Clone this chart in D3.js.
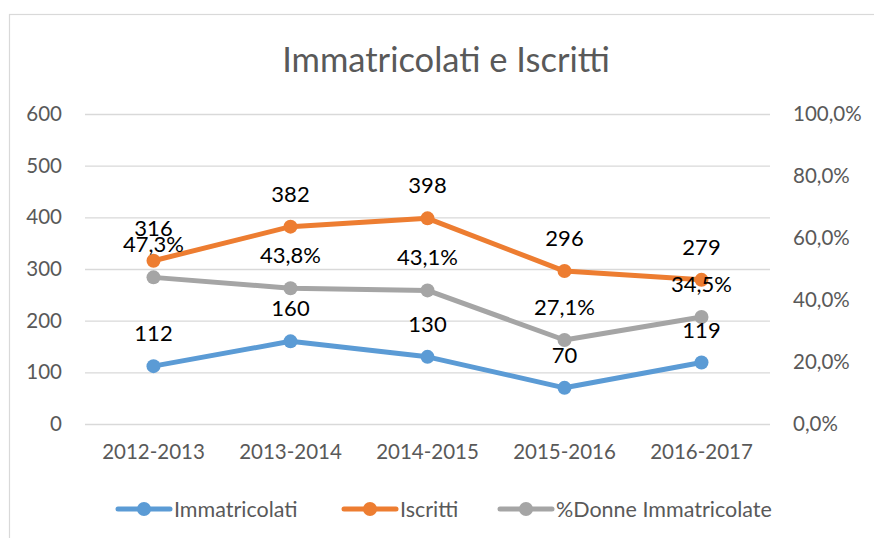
<!DOCTYPE html>
<html>
<head>
<meta charset="utf-8">
<script src="https://cdn.jsdelivr.net/npm/d3@7"></script>
<style>
  body { margin: 0; background: #fff; }
  text { font-family: Lato, "Open Sans", sans-serif; }
</style>
</head>
<body>
<div id="chart"></div>
<script>
;(function () {
  const categories = ["2012-2013", "2013-2014", "2014-2015", "2015-2016", "2016-2017"]
  const immatricolati = [112, 160, 130, 70, 119]
  const iscritti = [316, 382, 398, 296, 279]
  const donne = [47.3, 43.8, 43.1, 27.1, 34.5]
  const leftTicks = [0, 100, 200, 300, 400, 500, 600]
  const rightTicks = [0, 20, 40, 60, 80, 100]

  const width = 874
  const height = 538
  const margin = { top: 114, right: 104, bottom: 114, left: 85 }
  const chartWidth = width - margin.left - margin.right
  const chartHeight = height - margin.top - margin.bottom

  const fmtPct = v => d3.format(".1f")(v).replace(".", ",") + "%"

  const svg = d3
    .select("#chart")
    .append("svg")
    .attr("width", width)
    .attr("height", height)

  // chart frame
  svg.append("rect")
    .attr("x", 9.5)
    .attr("y", 14.5)
    .attr("width", 880)
    .attr("height", 540)
    .attr("fill", "none")
    .attr("stroke", "#d9d9d9")
    .attr("stroke-width", 1.2)

  // title
  svg.append("text")
    .attr("x", 446)
    .attr("y", 72)
    .attr("text-anchor", "middle")
    .attr("fill", "#595959")
    .style("font-size", "34.5px")
    .text("Immatricolati e Iscritti")

  const g = svg.append("g")
    .attr("transform", `translate(${margin.left},${margin.top})`)

  const x = d3.scaleBand().domain(categories).range([0, chartWidth])
  const yL = d3.scaleLinear().domain([0, 600]).range([chartHeight, 0])
  const yR = d3.scaleLinear().domain([0, 100]).range([chartHeight, 0])

  // grid + left axis
  const left = g.append("g")
    .call(d3.axisLeft(yL).tickValues(leftTicks).tickSize(-chartWidth).tickPadding(23))
  left.select(".domain").remove()
  left.selectAll("line").attr("stroke", "#d9d9d9").attr("stroke-width", 1.3)
  left.selectAll("text")
    .attr("fill", "#595959")
    .style("font-size", "20.5px")

  // right axis
  const right = g.append("g")
    .attr("transform", `translate(${chartWidth},0)`)
    .call(d3.axisRight(yR).tickValues(rightTicks).tickSize(0).tickPadding(23).tickFormat(fmtPct))
  right.select(".domain").remove()
  right.selectAll("text")
    .attr("fill", "#595959")
    .style("font-size", "20.5px")

  // x axis
  const bottom = g.append("g")
    .attr("transform", `translate(0,${chartHeight})`)
    .call(d3.axisBottom(x).tickSize(0).tickPadding(20))
  bottom.select(".domain").remove()
  bottom.selectAll("text")
    .attr("fill", "#595959")
    .style("font-size", "20.5px")

  const series = [
    { name: "Immatricolati", values: immatricolati, color: "#5b9bd5", y: yL, fmt: d => d },
    { name: "Iscritti", values: iscritti, color: "#ed7d31", y: yL, fmt: d => d },
    { name: "%Donne Immatricolate", values: donne, color: "#a5a5a5", y: yR, fmt: fmtPct }
  ]

  const cx = c => x(c) + x.bandwidth() / 2

  series.forEach(s => {
    const line = d3.line()
      .x((d, i) => cx(categories[i]))
      .y(d => s.y(d))
    g.append("path")
      .datum(s.values)
      .attr("d", line)
      .attr("fill", "none")
      .attr("stroke", s.color)
      .attr("stroke-width", 5)
      .attr("stroke-linejoin", "round")
      .attr("stroke-linecap", "round")
    g.selectAll(null)
      .data(s.values)
      .join("circle")
      .attr("cx", (d, i) => cx(categories[i]))
      .attr("cy", d => s.y(d))
      .attr("r", 7)
      .attr("fill", s.color)
  })

  // data labels on top (the 316 / 47,3% pair overlaps in the original too)
  series.forEach(s => {
    g.selectAll(null)
      .data(s.values)
      .join("text")
      .attr("x", (d, i) => cx(categories[i]))
      .attr("y", d => s.y(d) - 25)
      .attr("text-anchor", "middle")
      .attr("fill", "#000")
      .style("font-size", "22px")
      .text(s.fmt)
  })

  // legend
  const legendX = [116, 342, 498]
  const legend = svg.append("g").attr("transform", "translate(0,509)")
  series.forEach((s, i) => {
    const lg = legend.append("g").attr("transform", `translate(${legendX[i]},0)`)
    lg.append("line")
      .attr("x1", 2).attr("x2", 54)
      .attr("stroke", s.color)
      .attr("stroke-width", 5)
      .attr("stroke-linecap", "round")
    lg.append("circle").attr("cx", 28).attr("r", 7).attr("fill", s.color)
    lg.append("text")
      .attr("x", 58)
      .attr("dy", "0.36em")
      .attr("fill", "#595959")
      .style("font-size", "21.5px")
      .text(s.name)
  })
})()
</script>
</body>
</html>
